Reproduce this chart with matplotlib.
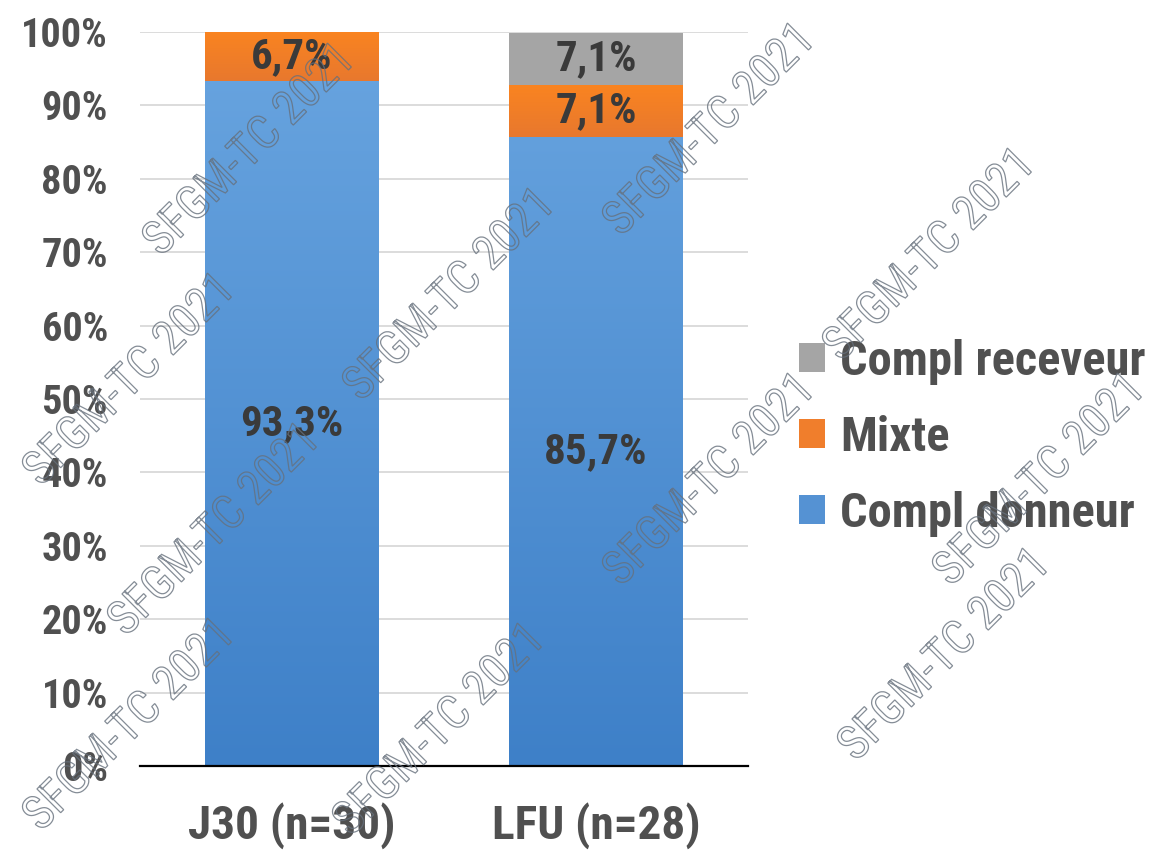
import matplotlib
matplotlib.use('Agg')
import matplotlib.pyplot as plt
import matplotlib.patheffects as pe
from matplotlib import font_manager as fm
import numpy as np
from matplotlib.colors import LinearSegmentedColormap

# narrow font, close to Arial Narrow
names = set(f.name for f in fm.fontManager.ttflist)
fam = 'DejaVu Sans'
for cand in ['Liberation Sans Narrow', 'Roboto Condensed', 'Open Sans Condensed']:
    if cand in names:
        fam = cand
        break
plt.rcParams['font.family'] = [fam, 'DejaVu Sans']
plt.rcParams['font.stretch'] = 'condensed'

categories = ['J30 (n=30)', 'LFU (n=28)']
donneur = [93.3, 85.7]
mixte = [6.7, 7.1]
receveur = [0.0, 7.1]
yticks = [0, 10, 20, 30, 40, 50, 60, 70, 80, 90, 100]

blue = '#5592D3'
orange = '#F07E2C'
grey = '#A5A5A5'
txt = '#505050'

fig = plt.figure(figsize=(11.76, 8.6), dpi=100)
ax = fig.add_axes([0.119, 0.109, 0.517, 0.854])

x = np.arange(len(categories))
w = 0.57
b1 = ax.bar(x, donneur, w, color=blue, zorder=2, label='Compl donneur')
bottom2 = np.array(donneur)
b2 = ax.bar(x, mixte, w, bottom=bottom2, color=orange, zorder=2, label='Mixte')
bottom3 = bottom2 + np.array(mixte)
b3 = ax.bar(x, receveur, w, bottom=bottom3, color=grey, zorder=2, label='Compl receveur')

# gradient on blue bars (lighter at top)
cmap = LinearSegmentedColormap.from_list('bl', ['#3E80C8', '#69A5E0'])
grad = np.linspace(0, 1, 256).reshape(-1, 1)
for bar in b1:
    x0 = bar.get_x()
    im = ax.imshow(grad, cmap=cmap, origin='lower', aspect='auto',
                   extent=[x0, x0 + bar.get_width(), 0, 100], zorder=2.1)
    im.set_clip_path(bar)

cmap_o = LinearSegmentedColormap.from_list('or', ['#E8782E', '#FA8420'])
for bar in b2:
    x0 = bar.get_x()
    im = ax.imshow(grad, cmap=cmap_o, origin='lower', aspect='auto',
                   extent=[x0, x0 + bar.get_width(), bar.get_y(), bar.get_y() + bar.get_height()],
                   zorder=2.1)
    im.set_clip_path(bar)

ax.set_xlim(-0.5, 1.5)
ax.set_ylim(0, 100)

# data labels
for bars, vals in [(b1, donneur), (b2, mixte), (b3, receveur)]:
    for bar, v in zip(bars, vals):
        if v <= 0:
            continue
        ax.text(bar.get_x() + bar.get_width() / 2, bar.get_y() + bar.get_height() / 2,
                ('%.1f%%' % v).replace('.', ','), ha='center', va='center',
                fontsize=31, fontweight='bold', color='#3a3a3a', zorder=3)

ax.set_yticks(yticks)
ax.set_yticklabels(['%d%%' % t for t in yticks])
ax.set_xticks(x)
ax.set_xticklabels(categories)
ax.tick_params(axis='y', length=0, pad=23, labelsize=29, labelcolor=txt)
ax.tick_params(axis='x', length=0, pad=26, labelsize=34, labelcolor=txt)
for lab in ax.get_yticklabels() + ax.get_xticklabels():
    lab.set_fontweight('bold')

ax.grid(axis='y', color='#D9D9D9', linewidth=1.3, zorder=0)
ax.set_axisbelow(True)
for s in ['top', 'right', 'left']:
    ax.spines[s].set_visible(False)
ax.spines['bottom'].set_color('black')
ax.spines['bottom'].set_linewidth(1.6)
ax.spines['bottom'].set_zorder(4)

handles = [b3, b2, b1]
leg = fig.legend(handles, ['Compl receveur', 'Mixte', 'Compl donneur'],
                 loc='center left', bbox_to_anchor=(0.679, 0.491), frameon=False,
                 borderaxespad=0, borderpad=0,
                 prop={'size': 35, 'weight': 'bold'}, handlelength=0.55, handleheight=0.55,
                 handletextpad=0.3, labelspacing=0.62)
for t in leg.get_texts():
    t.set_color(txt)

# watermark
wm_pos = [(250, 150), (710, 130), (130, 380), (450, 295), (930, 255),
          (215, 530), (710, 480), (1040, 480), (130, 725), (440, 730), (945, 655)]
for px, py in wm_pos:
    fig.text(px / 1176, 1 - py / 860, 'SFGM-TC 2021', rotation=45, ha='center', va='center',
             fontsize=34, zorder=10,
             path_effects=[pe.PathPatchEffect(edgecolor='#66707c', facecolor='none',
                                              linewidth=0.9, alpha=0.8)])

fig.savefig('out.png', dpi=100)
